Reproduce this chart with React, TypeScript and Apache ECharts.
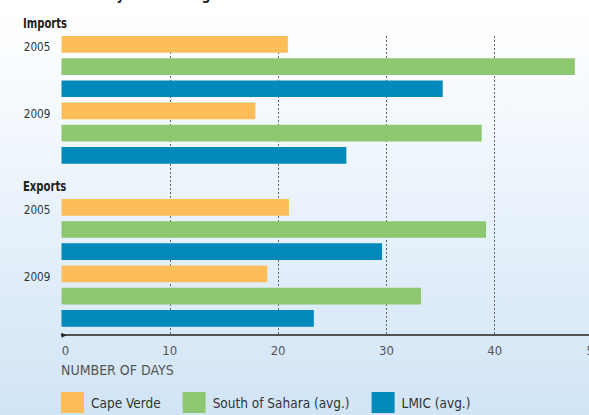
import React, { useEffect, useRef } from "react";
import * as echarts from "echarts";

const TITLE = "Number of days for trading across borders";
const sections = ["Imports", "Exports"];
const years = ["2005", "2009"];
const seriesNames = ["Cape Verde", "South of Sahara (avg.)", "LMIC (avg.)"];
// order: Imports 2005, Imports 2009, Exports 2005, Exports 2009
const capeVerde = [20.9, 17.9, 21.0, 19.0];
const southOfSahara = [47.4, 38.8, 39.2, 33.2];
const lmic = [35.2, 26.3, 29.6, 23.3];
const xTicks = [0, 10, 20, 30, 40, 50];
const xAxisName = "NUMBER OF DAYS";

const colors = ["#FDBE59", "#8DC871", "#0089BA"];
const FONT = '"DejaVu Sans Condensed", "DejaVu Sans", sans-serif';
const SECTION_OFFSET = 7.34;
const BAR_FRAC = 0.752;
const CHART_W = 620;
const VIEW_W = 589;
const H = 415;

export default function App() {
  const ref = useRef<HTMLDivElement>(null);
  useEffect(() => {
    if (!ref.current) return;
    const chart = echarts.init(ref.current, null, { renderer: "svg" });
    const allValues = [capeVerde, southOfSahara, lmic];

    const series = allValues.map((vals, s) => ({
      type: "custom",
      name: seriesNames[s],
      clip: false,
      itemStyle: { color: colors[s] },
      encode: { x: 0, y: 1 },
      data: vals.map((v, g) => {
        const sec = Math.floor(g / years.length);
        const yr = g % years.length;
        return [v, sec * SECTION_OFFSET + yr * 3 + s, yr, sec];
      }),
      renderItem: (params: any, api: any) => {
        const v = api.value(0);
        const p = api.value(1);
        const yr = api.value(2);
        const sec = api.value(3);
        const start = api.coord([0, p]);
        const end = api.coord([v, p]);
        const h = api.size([0, 1])[1] * BAR_FRAC;
        const children: any[] = [
          {
            type: "rect",
            shape: { x: start[0], y: start[1] - h / 2, width: end[0] - start[0], height: h },
            style: { fill: colors[s] },
          },
        ];
        if (s === 0) {
          children.push({
            type: "text",
            x: start[0] - 11,
            y: start[1] + 2.5,
            scaleX: 0.9,
            style: {
              text: years[yr],
              x: 0,
              y: 0,
              align: "right",
              verticalAlign: "middle",
              fontSize: 13,
              fontFamily: FONT,
              fill: "#333",
            },
          });
          if (yr === 0) {
            children.push({
              type: "text",
              x: start[0] - 38.5,
              y: start[1] - 21,
              scaleX: 0.8,
              style: {
                text: sections[sec],
                x: 0,
                y: 0,
                align: "left",
                verticalAlign: "middle",
                fontSize: 14,
                fontWeight: "bold",
                fontFamily: FONT,
                fill: "#222",
              },
            });
          }
        }
        return { type: "group", children };
      },
    }));

    chart.setOption({
      animation: false,
      backgroundColor: new echarts.graphic.LinearGradient(0, 0, 0, 1, [
        { offset: 0, color: "#ffffff" },
        { offset: 0.12, color: "#fbfdff" },
        { offset: 1, color: "#d1e4f5" },
      ]),
      grid: { left: 61.5, right: CHART_W - 603, top: 36, bottom: 79.8 },
      xAxis: {
        type: "value",
        position: "bottom",
        min: xTicks[0],
        max: xTicks[xTicks.length - 1],
        interval: 10,
        axisLine: {
          show: true,
          onZero: false,
          symbol: ["path://M0,0 L10,0 L5,10 Z", "none"],
          symbolSize: [6, 5],
          symbolOffset: [2.5, 0],
          lineStyle: { color: "#222", width: 1.5 },
        },
        axisTick: { show: false },
        axisLabel: {
          color: "#555",
          fontSize: 13,
          fontFamily: FONT,
          margin: 9,
          formatter: (val: number) =>
            val === 0 ? "{z|0}" : val === 50 ? "{e|50}" : String(val),
          rich: {
            z: { padding: [0, 0, 0, 8], color: "#555", fontSize: 13, fontFamily: FONT },
            e: { padding: [0, 18, 0, 0], color: "#555", fontSize: 13, fontFamily: FONT },
          },
        },
        splitLine: {
          show: true,
          showMinLine: false,
          showMaxLine: false,
          lineStyle: { type: [2, 2], color: "#666", width: 1 },
        },
      },
      yAxis: {
        type: "value",
        inverse: true,
        min: -0.375,
        max: 13.1,
        show: false,
        splitLine: { show: false },
      },
      legend: {
        data: seriesNames,
        icon: "rect",
        left: 61,
        top: 392,
        padding: 0,
        itemWidth: 23,
        itemHeight: 21,
        itemGap: 22,
        textStyle: { fontSize: 13.5, color: "#333", fontFamily: FONT, padding: [0, 0, 0, 2] },
      },
      graphic: [
        {
          type: "text",
          x: 23,
          y: -14,
          scaleX: 0.85,
          style: { text: TITLE, fontSize: 16, fontWeight: "bold", fontFamily: FONT, fill: "#222" },
        },
        {
          type: "text",
          left: 61,
          top: 363,
          style: { text: xAxisName, fontSize: 14, fontFamily: FONT, fill: "#555" },
        },
      ],
      series,
    });
    return () => chart.dispose();
  }, []);
  return (
    <div style={{ position: "absolute", left: 0, top: 0, width: VIEW_W, height: H, overflow: "hidden" }}>
      <div ref={ref} style={{ width: CHART_W, height: H }} />
    </div>
  );
}
